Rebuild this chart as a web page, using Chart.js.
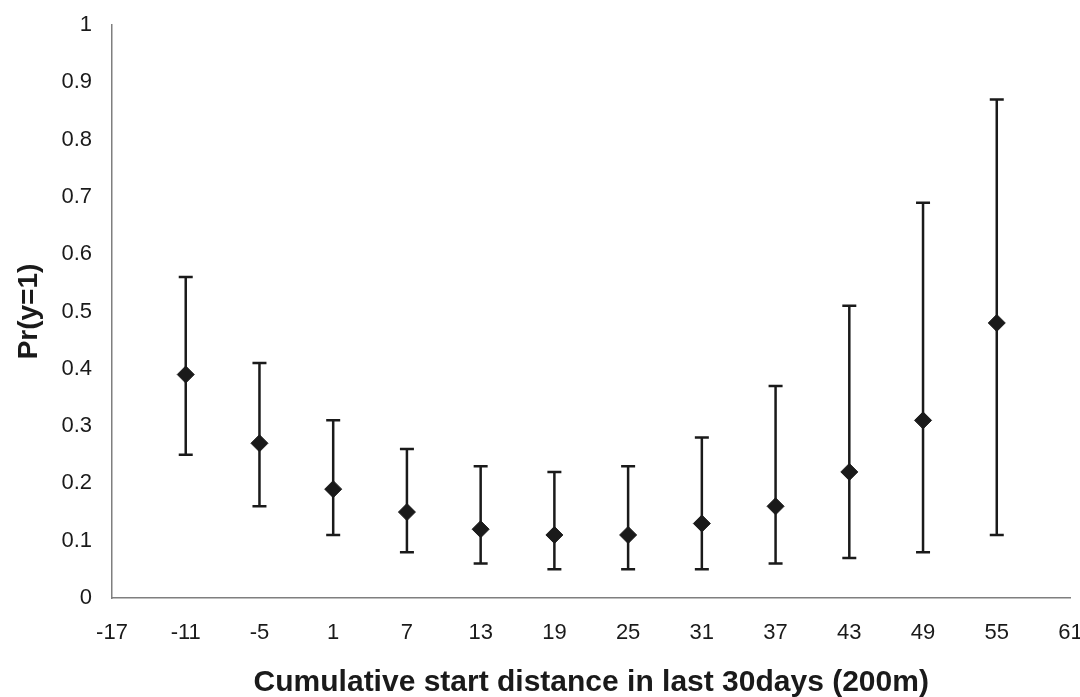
<!DOCTYPE html>
<html>
<head>
<meta charset="utf-8">
<script src="https://cdn.jsdelivr.net/npm/chart.js@4.4.0/dist/chart.umd.min.js"></script>
<style>
  html, body { margin: 0; padding: 0; background: #fff; }
  #wrap { width: 1080px; height: 697px; }
</style>
</head>
<body>
<div id="wrap"><canvas id="c" width="1080" height="697"></canvas></div>
<script>
// data
const xValues = [-11, -5, 1, 7, 13, 19, 25, 31, 37, 43, 49, 55];
const prob    = [0.39, 0.27, 0.19, 0.15, 0.12, 0.11, 0.11, 0.13, 0.16, 0.22, 0.31, 0.48];
const lower   = [0.25, 0.16, 0.11, 0.08, 0.06, 0.05, 0.05, 0.05, 0.06, 0.07, 0.08, 0.11];
const upper   = [0.56, 0.41, 0.31, 0.26, 0.23, 0.22, 0.23, 0.28, 0.37, 0.51, 0.69, 0.87];
const xTicks  = [-17, -11, -5, 1, 7, 13, 19, 25, 31, 37, 43, 49, 55, 61];
const yTicks  = [0, 0.1, 0.2, 0.3, 0.4, 0.5, 0.6, 0.7, 0.8, 0.9, 1];

const ink = "#1a1a1a";
const axisGrey = "#7f7f7f";

// draw the CI whiskers under the diamonds
const errorBars = {
  id: "errorBars",
  beforeDatasetsDraw(chart) {
    const { ctx, scales: { x, y } } = chart;
    const cap = 7;
    ctx.save();
    ctx.strokeStyle = ink;
    ctx.lineWidth = 2.5;
    xValues.forEach((v, i) => {
      const px = x.getPixelForValue(v);
      const top = y.getPixelForValue(upper[i]);
      const bot = y.getPixelForValue(lower[i]);
      ctx.beginPath();
      ctx.moveTo(px, top); ctx.lineTo(px, bot);
      ctx.moveTo(px - cap, top); ctx.lineTo(px + cap, top);
      ctx.moveTo(px - cap, bot); ctx.lineTo(px + cap, bot);
      ctx.stroke();
    });
    ctx.restore();
  }
};

const tickFont = { family: "'Liberation Sans', Arial, sans-serif", size: 22 };
const titleFont = { family: "'Liberation Sans', Arial, sans-serif", size: 30, weight: "bold" };

new Chart(document.getElementById("c"), {
  type: "scatter",
  data: {
    datasets: [{
      data: xValues.map((v, i) => ({ x: v, y: prob[i] })),
      pointStyle: "rectRot",
      pointRadius: 8.5,
      pointHoverRadius: 8.5,
      backgroundColor: ink,
      borderColor: ink,
      borderWidth: 1
    }]
  },
  options: {
    responsive: false,
    animation: false,
    events: [],
    layout: { padding: { top: 25, right: 7, left: 0, bottom: -4 } },
    plugins: { legend: { display: false }, tooltip: { enabled: false } },
    scales: {
      x: {
        type: "linear",
        min: -17, max: 61,
        afterBuildTicks: s => { s.ticks = xTicks.map(v => ({ value: v })); },
        // let the last label run off the edge like the original
        afterFit: s => { s.height = 103; s.paddingRight = 0; s.paddingLeft = 0; },
        grid: { display: false, drawOnChartArea: false, drawTicks: true, tickLength: 6, tickColor: axisGrey },
        border: { color: axisGrey, width: 1.5 },
        ticks: { color: ink, font: tickFont, padding: 16, maxRotation: 0, autoSkip: false },
        title: { display: true, text: "Cumulative start distance in last 30days (200m)", color: ink, font: titleFont, padding: { top: 4, bottom: 0 } }
      },
      y: {
        min: 0, max: 1,
        afterBuildTicks: s => { s.ticks = yTicks.map(v => ({ value: v })); },
        afterFit: s => { s.width = 112; s.paddingTop = 0; },
        grid: { display: false, drawOnChartArea: false, drawTicks: true, tickLength: 6, tickColor: axisGrey },
        border: { color: axisGrey, width: 1.5 },
        ticks: { color: ink, font: tickFont, padding: 14, autoSkip: false, callback: v => String(v) },
        title: { display: true, text: "Pr(y=1)", color: ink, font: { ...titleFont, size: 28 }, padding: { top: 12, bottom: 4 } }
      }
    }
  },
  plugins: [errorBars]
});
</script>
</body>
</html>
